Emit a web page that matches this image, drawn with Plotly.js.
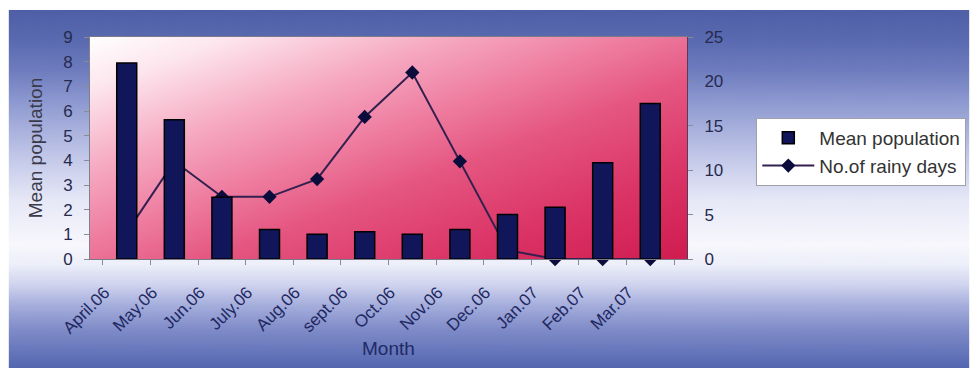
<!DOCTYPE html>
<html>
<head>
<meta charset="utf-8">
<script src="https://cdn.plot.ly/plotly-3.0.1.min.js"></script>
<style>
  html, body { margin: 0; padding: 0; background: #ffffff; }
  #chart { width: 978px; height: 370px; }
</style>
</head>
<body>
<div id="chart"></div>
<script>
// Monthly data, April 2006 - March 2007
const months = ["April.06", "May.06", "Jun.06", "July.06", "Aug.06", "sept.06",
                "Oct.06", "Nov.06", "Dec.06", "Jan.07", "Feb.07", "Mar.07"];
const meanPopulation = [7.95, 5.65, 2.5, 1.2, 1.0, 1.1, 1.0, 1.2, 1.8, 2.1, 3.9, 6.3];
const rainyDays = [3, 11, 7, 7, 9, 16, 21, 11, 1, 0, 0, 0];

// Pixel layout of the figure
const W = 978, H = 370;
const plotL = 90, plotR = 693, plotT = 37, plotB = 259;
const frameL = 8, frameT = 10, frameR = 978, frameB = 368;
const pw = plotR - plotL, ph = plotB - plotT;

// Paint a gradient on an offscreen canvas and return it as a data URL
function gradientImage(w, h, stops, x0, y0, x1, y1) {
  const c = document.createElement('canvas');
  c.width = w; c.height = h;
  const g = c.getContext('2d');
  const grad = g.createLinearGradient(x0, y0, x1, y1);
  stops.forEach(s => grad.addColorStop(s[0], s[1]));
  g.fillStyle = grad;
  g.fillRect(0, 0, w, h);
  return c.toDataURL('image/png');
}

// Outer chart frame: blue at top and bottom, pale band low in the middle
const frameSrc = gradientImage(64, 358, [
  [0.000, '#4e5fa7'], [0.084, '#5a6ab0'], [0.168, '#6e7cbe'], [0.251, '#8b97cf'],
  [0.391, '#bcc2e6'], [0.531, '#e6e8f7'], [0.656, '#f8f7fd'], [0.712, '#eceef9'],
  [0.768, '#cfd3ee'], [0.824, '#a6aedc'], [0.894, '#7f8bc8'], [1.000, '#5366b0']
], 0, 0, 0, 358);

// Plot area: white in the upper left turning to crimson towards the lower right
const plotSrc = gradientImage(256, 256, [
  [0.00, '#ffffff'], [0.12, '#fde6ee'], [0.30, '#f6aac2'], [0.45, '#ef7fa2'],
  [0.60, '#e55681'], [0.80, '#db3466'], [1.00, '#d01c50']
], 0, 0, 256, 256);

const barTrace = {
  type: 'bar',
  name: 'Mean population',
  x: months,
  y: meanPopulation,
  yaxis: 'y2',
  width: 0.42,
  marker: { color: '#11165a', line: { color: '#000000', width: 1.5 } }
};

const lineTrace = {
  type: 'scatter',
  mode: 'lines+markers',
  name: 'No.of rainy days',
  x: months,
  y: rainyDays,
  yaxis: 'y',
  cliponaxis: false,
  line: { color: '#33204f', width: 2 },
  marker: { symbol: 'diamond', size: 11, color: '#0c0c3c' }
};

const tickFont = { family: 'Liberation Sans, Arial, sans-serif', size: 17, color: '#262a4e' };

const layout = {
  width: W,
  height: H,
  margin: { l: plotL, r: W - plotR, t: plotT, b: H - plotB, pad: 0 },
  paper_bgcolor: '#ffffff',
  plot_bgcolor: 'rgba(0,0,0,0)',
  font: { family: 'Liberation Sans, Arial, sans-serif', color: '#333333' },
  showlegend: true,
  legend: {
    x: (763 - plotL) / pw, y: (plotB - 118) / ph,
    xanchor: 'left', yanchor: 'top',
    bgcolor: '#ffffff', bordercolor: '#a0a0aa', borderwidth: 1,
    font: { size: 19, color: '#333333' },
    itemwidth: 52,
    traceorder: 'normal'
  },
  xaxis: {
    type: 'category',
    tickangle: -45,
    tickfont: { family: 'Liberation Sans, Arial, sans-serif', size: 17, color: '#1e2862' },
    ticks: 'outside', ticklen: 5, tickcolor: '#8a8a98', tickson: 'boundaries',
    ticklabelstandoff: 16,
    ticklabelshift: -22,
    showline: true, linecolor: '#7a7a88', linewidth: 1, mirror: true,
    showgrid: false, zeroline: false
  },
  yaxis: {
    range: [0, 25], dtick: 5, side: 'right',
    showgrid: false, zeroline: false,
    showline: true, linecolor: '#5a3a5a', linewidth: 1,
    ticks: 'outside', ticklen: 5, tickcolor: '#8a8a98',
    ticklabelstandoff: 8,
    tickfont: tickFont
  },
  yaxis2: {
    range: [0, 9], dtick: 1, side: 'left', overlaying: 'y',
    showgrid: false, zeroline: false,
    showline: true, linecolor: '#808088', linewidth: 1,
    ticks: 'outside', ticklen: 5, tickcolor: '#8a8a98',
    ticklabelstandoff: 8,
    tickfont: tickFont,
    title: { text: 'Mean population', font: { size: 19, color: '#3a3a4a' }, standoff: 15 }
  },
  annotations: [
    {
      // x-axis title, set under the slanted month labels
      text: 'Month', showarrow: false,
      xref: 'paper', yref: 'paper', x: 0.5, y: (plotB - 348) / ph,
      xanchor: 'center', yanchor: 'middle',
      font: { size: 19, color: '#1f2a66' }
    }
  ],
  images: [
    {
      source: frameSrc, xref: 'paper', yref: 'paper',
      x: (frameL - plotL) / pw, y: (plotB - frameT) / ph,
      sizex: (frameR - frameL) / pw, sizey: (frameB - frameT) / ph,
      xanchor: 'left', yanchor: 'top', sizing: 'stretch', layer: 'below'
    },
    {
      source: plotSrc, xref: 'paper', yref: 'paper',
      x: 0, y: 1, sizex: 1, sizey: 1,
      xanchor: 'left', yanchor: 'top', sizing: 'stretch', layer: 'below'
    }
  ]
};

Plotly.newPlot('chart', [barTrace, lineTrace], layout, { displayModeBar: false, staticPlot: true });
</script>
</body>
</html>
